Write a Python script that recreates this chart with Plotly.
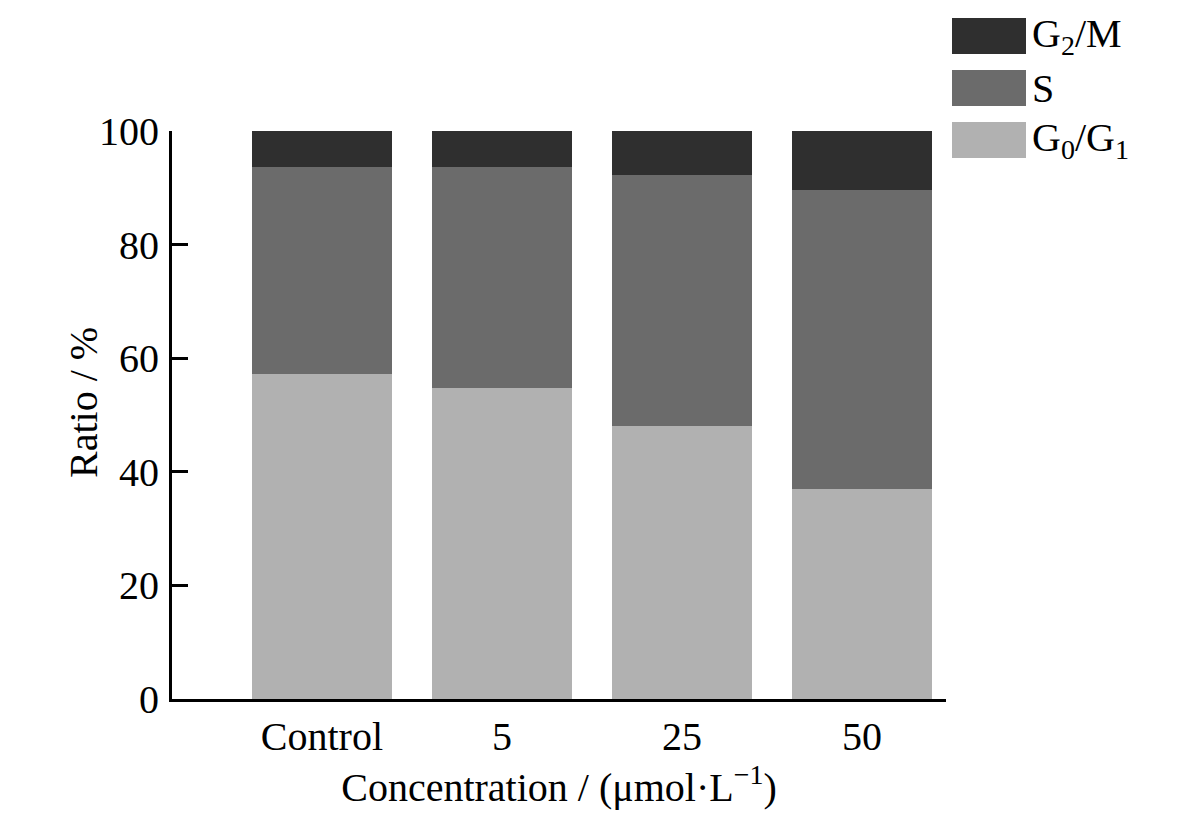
import plotly.graph_objects as go

categories = ["Control", "5", "25", "50"]
g0g1 = [57.3, 54.8, 48.1, 36.9]
s_phase = [36.4, 38.9, 44.2, 52.7]
g2m = [6.3, 6.3, 7.7, 10.4]

series_names = ["G<sub>0</sub>/G<sub>1</sub>", "S", "G<sub>2</sub>/M"]
series_colors = ["#b1b1b1", "#6b6b6b", "#2f2f2f"]
series_values = [g0g1, s_phase, g2m]

FONT = "Liberation Serif, Times New Roman, serif"
FS = 40

# page offset of ~8px (body margin) is compensated in margins
L, T = 164, 123
PW, PH = 774, 568

fig = go.Figure()
for name, color, vals in zip(series_names, series_colors, series_values):
    fig.add_trace(go.Bar(x=categories, y=vals, name=name, marker=dict(color=color, line=dict(width=0)),
                         width=0.78, showlegend=False))

fig.update_layout(
    barmode="stack",
    width=1184, height=808,
    margin=dict(l=L, r=1184 - L - PW, t=T, b=808 - T - PH),
    plot_bgcolor="white", paper_bgcolor="white",
    font=dict(family=FONT, size=FS, color="black"),
    xaxis=dict(range=[-0.833, 3.467], showline=True, linecolor="black", linewidth=3,
               ticks="", showgrid=False, zeroline=False,
               tickfont=dict(size=FS),
               title=dict(text="Concentration / (μmol·L<sup>−1</sup>)", font=dict(size=FS), standoff=14)),
    yaxis=dict(range=[0, 100], tickvals=[0, 20, 40, 60, 80, 100], showline=True, linecolor="black",
               linewidth=3, ticks="inside", ticklen=16, tickwidth=3, tickcolor="black",
               showgrid=False, zeroline=False, tickfont=dict(size=FS), ticklabelstandoff=2,
               title=dict(text="", font=dict(size=FS))),
)

# y-axis title placed close to the tick labels
fig.add_annotation(xref="paper", yref="paper", x=(83 - 172) / PW, y=(699 - 403) / PH,
                   text="Ratio / %", textangle=-90, showarrow=False,
                   xanchor="center", yanchor="middle", font=dict(family=FONT, size=FS, color="black"))

# Legend drawn as large swatches (top to bottom: G2/M, S, G0/G1)
legend_items = list(zip(series_names, series_colors))[::-1]
box_tops = [18, 70, 122]
for (name, color), top in zip(legend_items, box_tops):
    y0 = (699 - top) / PH
    y1 = (699 - (top + 36)) / PH
    fig.add_shape(type="rect", xref="paper", yref="paper", x0=(952 - 172) / PW, x1=(1026 - 172) / PW,
                  y0=y1, y1=y0, fillcolor=color, line=dict(width=0))
    fig.add_annotation(xref="paper", yref="paper", x=(1030 - 172) / PW, y=(y0 + y1) / 2,
                       text=name, showarrow=False, xanchor="left", yanchor="middle",
                       font=dict(family=FONT, size=FS, color="black"))

fig.write_html("out.html")
